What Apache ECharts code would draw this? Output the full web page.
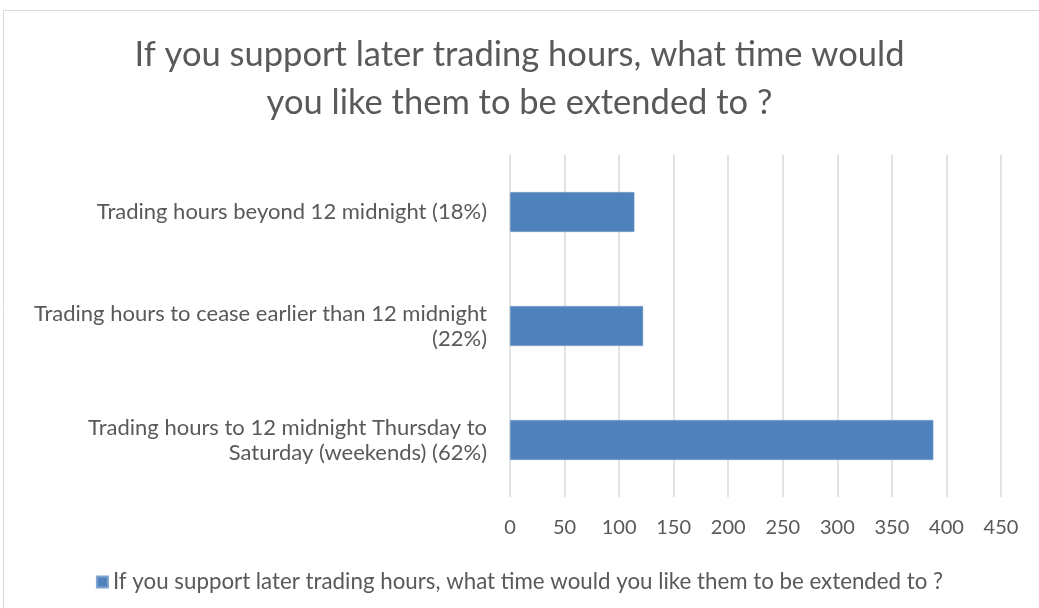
<!DOCTYPE html>
<html>
<head>
<meta charset="utf-8">
<script src="https://cdn.jsdelivr.net/npm/echarts@6/dist/echarts.min.js"></script>
<style>
  html, body { margin: 0; padding: 0; background: #fff; }
  #main { width: 1039px; height: 608px; }
</style>
</head>
<body>
<div id="main"></div>
<script>
// data
let categories = [
  "Trading hours to 12 midnight Thursday to\nSaturday (weekends) (62%)",
  "Trading hours to cease earlier than 12 midnight\n(22%)",
  "Trading hours beyond 12 midnight (18%)"
];
let values = [388, 122, 114];
let seriesName = "If you support later trading hours, what time would you like them to be extended to ?";
let titleText = "If you support later trading hours, what time would\nyou like them to be extended to ?";

let font = "Lato";
let myChart = echarts.init(document.getElementById("main"));

let option = {
  animation: false,
  textStyle: { fontFamily: font },
  // chart border
  graphic: [
    {
      type: "rect",
      shape: { x: 3.5, y: 10.5, width: 1040, height: 610 },
      style: { fill: "none", stroke: "#d9d9d9", lineWidth: 1 },
      silent: true
    }
  ],
  title: {
    text: titleText,
    left: "center",
    top: 26,
    textStyle: {
      fontFamily: font,
      fontSize: 34.5,
      fontWeight: "normal",
      color: "#595959",
      lineHeight: 48
    }
  },
  legend: {
    bottom: 10,
    left: "center",
    itemWidth: 11,
    itemHeight: 11,
    itemGap: 6,
    icon: "rect",
    textStyle: { fontFamily: font, fontSize: 22.3, color: "#595959" },
    data: [seriesName]
  },
  grid: {
    left: 510,
    right: 38,
    top: 155,
    bottom: 111,
    containLabel: false
  },
  xAxis: {
    type: "value",
    min: 0,
    max: 450,
    interval: 50,
    axisLine: { show: false },
    axisTick: { show: false },
    axisLabel: { color: "#595959", fontSize: 20, margin: 21, fontFamily: font },
    splitLine: { lineStyle: { color: "#d9d9d9", width: 1.5 } }
  },
  yAxis: {
    type: "category",
    data: categories,
    axisLine: { show: false },
    axisTick: { show: false },
    axisLabel: {
      color: "#595959",
      fontSize: 22,
      margin: 23,
      lineHeight: 25,
      align: "right",
      fontFamily: font
    }
  },
  color: ["#4f81bd"],
  series: [
    {
      name: seriesName,
      type: "bar",
      barWidth: "35%",
      data: values,
      itemStyle: { color: "#4f81bd", borderColor: "#7fa3d0", borderWidth: 0.5 }
    }
  ]
};

myChart.setOption(option);
</script>
</body>
</html>
